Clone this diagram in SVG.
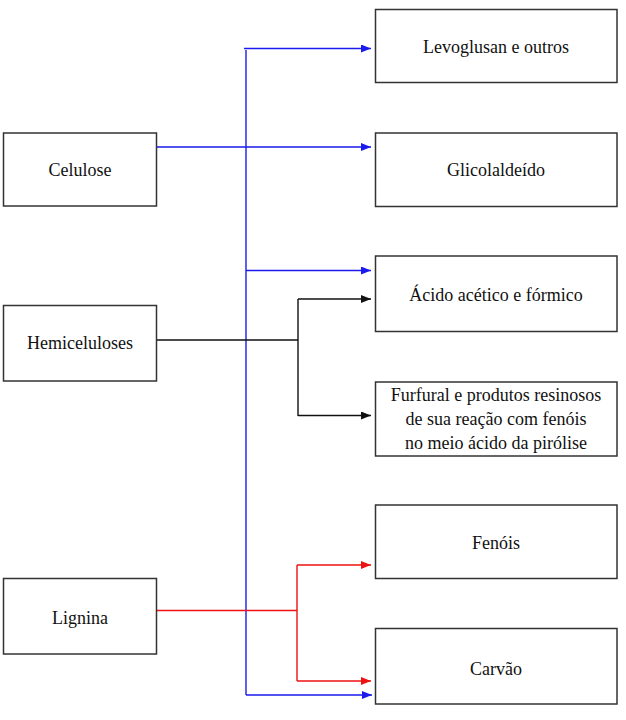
<svg xmlns="http://www.w3.org/2000/svg" width="626" height="720" viewBox="0 0 626 720">
<defs>
<style>
.box{fill:#fff;stroke:#333;stroke-width:1.5}
.t{font-family:"Liberation Serif","Times New Roman",serif;font-size:18px;fill:#111;text-anchor:middle}
.c{fill:none;stroke-width:1.4}
.b{stroke:#1a1aee}
.k{stroke:#111}
.r{stroke:#ee1111}
</style>
<marker id="ab" viewBox="0 0 10 8" refX="10" refY="4" markerUnits="userSpaceOnUse" markerWidth="10" markerHeight="8" orient="auto"><path d="M0,0 L10,4 L0,8 Z" fill="#1a1aee"/></marker>
<marker id="ak" viewBox="0 0 10 8" refX="10" refY="4" markerUnits="userSpaceOnUse" markerWidth="10" markerHeight="8" orient="auto"><path d="M0,0 L10,4 L0,8 Z" fill="#111"/></marker>
<marker id="ar" viewBox="0 0 10 8" refX="10" refY="4" markerUnits="userSpaceOnUse" markerWidth="10" markerHeight="8" orient="auto"><path d="M0,0 L10,4 L0,8 Z" fill="#ee1111"/></marker>
</defs>
<g id="connectors">
<path class="c b" d="M246,50 V695"/>
<path class="c b" d="M244,48.5 H371" marker-end="url(#ab)"/>
<path class="c b" d="M157,147 H371" marker-end="url(#ab)"/>
<path class="c b" d="M246,270.5 H371" marker-end="url(#ab)"/>
<path class="c b" d="M246,695 H372" marker-end="url(#ab)"/>
<path class="c k" d="M157,340 H298 M298,299 V416"/>
<path class="c k" d="M298,299 H371" marker-end="url(#ak)"/>
<path class="c k" d="M298,415.5 H371" marker-end="url(#ak)"/>
<path class="c r" d="M157,610.5 H297 M297,565 V681"/>
<path class="c r" d="M297,565 H371" marker-end="url(#ar)"/>
<path class="c r" d="M297,681 H371" marker-end="url(#ar)"/>
</g>
<g id="celulose"><rect class="box" x="3.5" y="133" width="153" height="73"/><text class="t" x="80" y="176">Celulose</text></g>
<g id="hemiceluloses"><rect class="box" x="3.5" y="305.5" width="153" height="75.5"/><text class="t" x="80" y="349">Hemiceluloses</text></g>
<g id="lignina"><rect class="box" x="3.5" y="578.5" width="153" height="75.5"/><text class="t" x="80" y="624">Lignina</text></g>
<g id="levoglusan"><rect class="box" x="375.5" y="9.5" width="241.5" height="73"/><text class="t" x="496" y="53">Levoglusan e outros</text></g>
<g id="glicolaldeido"><rect class="box" x="375.5" y="133" width="241.5" height="73.5"/><text class="t" x="496" y="176">Glicolaldeído</text></g>
<g id="acido"><rect class="box" x="375.5" y="256" width="241.5" height="75.5"/><text class="t" x="496" y="301">Ácido acético e fórmico</text></g>
<g id="furfural"><rect class="box" x="375.5" y="382" width="241.5" height="74"/><text class="t" x="496" y="401">Furfural e produtos resinosos</text><text class="t" x="496" y="425">de sua reação com fenóis</text><text class="t" x="496" y="449">no meio ácido da pirólise</text></g>
<g id="fenois"><rect class="box" x="375.5" y="505" width="241.5" height="73.5"/><text class="t" x="496" y="549">Fenóis</text></g>
<g id="carvao"><rect class="box" x="375.5" y="628.5" width="241.5" height="75.5"/><text class="t" x="496" y="675">Carvão</text></g>
</svg>
